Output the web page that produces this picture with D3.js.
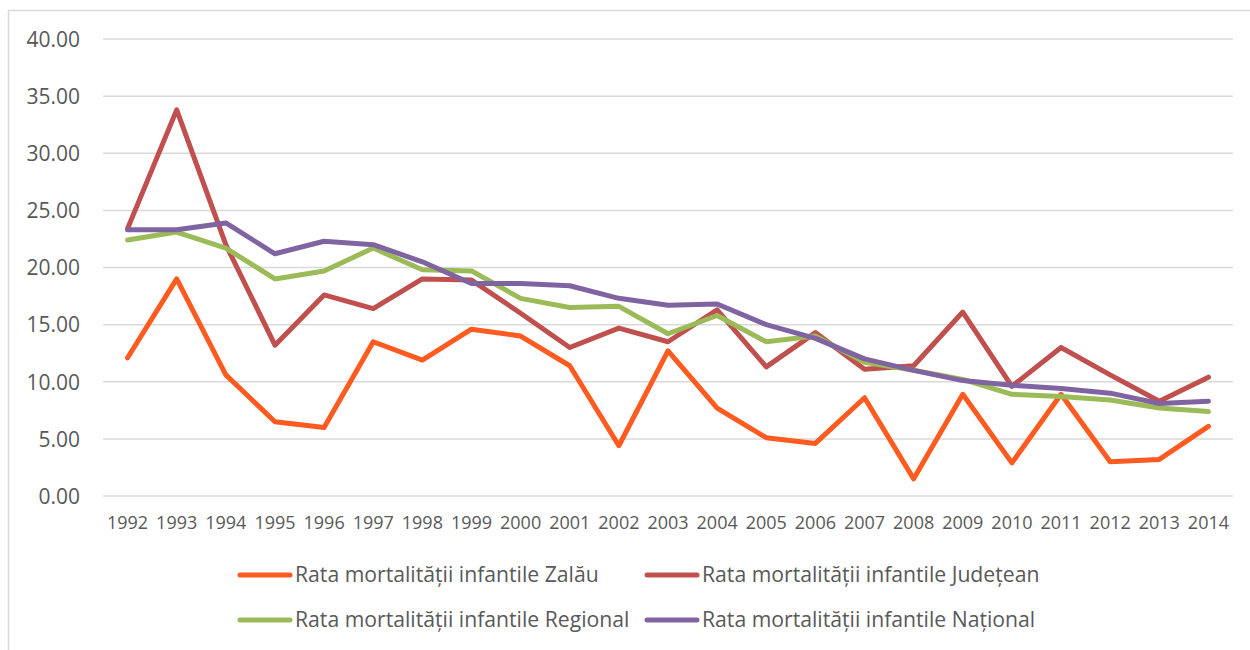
<!DOCTYPE html>
<html>
<head>
<meta charset="utf-8">
<script src="https://cdn.jsdelivr.net/npm/d3@7"></script>
<style>
  body { margin: 0; background: #fff; }
  text { font-family: "Open Sans", sans-serif; fill: #595959; }
</style>
</head>
<body>
<div id="my_chart"></div>
<script>
// data
const years = ["1992","1993","1994","1995","1996","1997","1998","1999","2000","2001","2002","2003",
  "2004","2005","2006","2007","2008","2009","2010","2011","2012","2013","2014"];
const zalau    = [12.1,19.0,10.6,6.5,6.0,13.5,11.9,14.6,14.0,11.4,4.4,12.7,7.7,5.1,4.6,8.6,1.5,8.9,2.9,8.9,3.0,3.2,6.1];
const judetean = [23.4,33.8,22.0,13.2,17.6,16.4,19.0,18.9,16.0,13.0,14.7,13.5,16.3,11.3,14.3,11.1,11.4,16.1,9.6,13.0,10.6,8.3,10.4];
const regional = [22.4,23.1,21.7,19.0,19.7,21.7,19.8,19.7,17.3,16.5,16.6,14.2,15.8,13.5,14.0,11.7,11.0,10.2,8.9,8.7,8.4,7.7,7.4];
const national = [23.3,23.3,23.9,21.2,22.3,22.0,20.5,18.6,18.6,18.4,17.3,16.7,16.8,15.0,13.8,12.0,11.0,10.1,9.7,9.4,9.0,8.1,8.3];
const seriesNames = ["Rata mortalității infantile Zalău", "Rata mortalității infantile Județean",
  "Rata mortalității infantile Regional", "Rata mortalității infantile Național"];
const seriesColors = ["#FF5A1F", "#C0504D", "#9BBB59", "#8064A2"];
const yTicks = [0, 5, 10, 15, 20, 25, 30, 35, 40];

const width = 1250, height = 650;
const svg = d3.select("#my_chart").append("svg")
  .attr("width", width).attr("height", height);

// outer frame
svg.append("rect")
  .attr("x", 8.5).attr("y", 10.5)
  .attr("width", 1260).attr("height", 660)
  .attr("fill", "none").attr("stroke", "#D9D9D9").attr("stroke-width", 1.5);

const plot = {left: 103, right: 1233, top: 39, bottom: 496};

const x = d3.scaleBand().domain(years).range([plot.left, plot.right]);
const y = d3.scaleLinear().domain([0, 40]).range([plot.bottom, plot.top]);

// gridlines
svg.append("g").selectAll("line")
  .data(yTicks).enter().append("line")
  .attr("x1", plot.left).attr("x2", plot.right)
  .attr("y1", d => y(d)).attr("y2", d => y(d))
  .attr("stroke", "#D9D9D9").attr("stroke-width", 1.5);

// y axis labels
const yAxis = svg.append("g")
  .attr("transform", "translate(" + (plot.left - 23) + ",0)")
  .call(d3.axisLeft(y).tickValues(yTicks).tickFormat(d3.format(".2f")).tickSize(0).tickPadding(0));
yAxis.select(".domain").remove();
yAxis.selectAll("text").style("font-size", "21px").attr("dy", "0.35em");

// x axis labels
const xAxis = svg.append("g")
  .attr("transform", "translate(0," + (plot.bottom + 17) + ")")
  .call(d3.axisBottom(x).tickSize(0).tickPadding(0));
xAxis.select(".domain").remove();
xAxis.selectAll("text").style("font-size", "18px").attr("dy", "0.9em");

// lines
const allSeries = [zalau, judetean, regional, national];
const line = d3.line()
  .x((d, i) => x(years[i]) + x.bandwidth() / 2)
  .y(d => y(d));

svg.append("g").selectAll("path")
  .data(allSeries).enter().append("path")
  .attr("d", d => line(d))
  .attr("fill", "none")
  .attr("stroke", (d, i) => seriesColors[i])
  .attr("stroke-width", 5)
  .attr("stroke-linejoin", "round")
  .attr("stroke-linecap", "round");

// legend
const legendPos = [[238, 575], [645, 575], [238, 620], [645, 620]];
const legend = svg.append("g").selectAll("g")
  .data(seriesNames).enter().append("g")
  .attr("transform", (d, i) => "translate(" + legendPos[i][0] + "," + legendPos[i][1] + ")");
legend.append("line")
  .attr("x1", 2).attr("x2", 52).attr("y1", 0).attr("y2", 0)
  .attr("stroke", (d, i) => seriesColors[i])
  .attr("stroke-width", 5).attr("stroke-linecap", "round");
legend.append("text")
  .attr("x", 57).attr("y", 0).attr("dy", "0.35em")
  .style("font-size", "21.2px")
  .text(d => d);
</script>
</body>
</html>
